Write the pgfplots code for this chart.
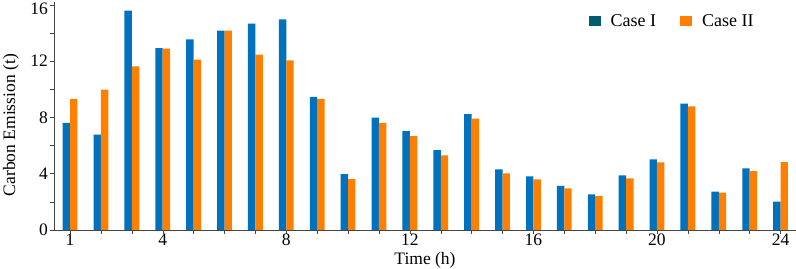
\documentclass[border=0pt]{standalone}
\usepackage{pgfplots}
\pgfplotsset{compat=1.18}
\usepackage{fontspec}
\setmainfont{Liberation Serif}
\definecolor{cblue}{RGB}{0,114,189}
\definecolor{corange}{RGB}{255,127,0}
\definecolor{cteal}{RGB}{0,92,110}
\definecolor{axgray}{RGB}{70,70,70}
\begin{document}
\begin{tikzpicture}
\begin{axis}[
  scale only axis,
  width=742pt, height=228pt,
  xmin=0.48, xmax=24.5,
  ymin=0, ymax=16.2,
  ybar=0pt, bar width=0.24,
  axis lines=left,
  axis line style={axgray, -},
  xtick={1,4,8,12,16,20,24},
  minor xtick={1,...,24},
  ytick={0,4,8,12},
  minor ytick={2,6,10,14},
  extra y ticks={16},
  extra y tick style={yticklabel style={yshift=-4pt}},
  tick align=outside,
  major tick length=4pt, minor tick length=4pt,
  tick style={axgray},
  every tick/.style={axgray},
  tick label style={font=\fontsize{17.5}{19}\selectfont, text=black},
  xticklabel style={inner sep=1pt, yshift=1pt},
  yticklabel style={inner sep=2pt},
  /pgf/number format/assume math mode=true,
  xlabel={Time (h)},
  ylabel={Carbon Emission (t)},
  label style={font=\fontsize{17.5}{19}\selectfont},
  xlabel style={at={(axis description cs:0.5,0)}, anchor=center, yshift=-30pt},
  ylabel style={at={(axis description cs:-0.058,0.46)}, anchor=center},
  legend style={draw=none, fill=none, at={(0.95,0.965)}, anchor=north east,
    legend columns=2, font=\fontsize{18}{20}\selectfont,
    /tikz/every odd column/.append style={column sep=8pt},
    /tikz/every even column/.append style={column sep=22pt}},
]
\coordinate (bl) at (rel axis cs:0,0);
\coordinate (tr) at (rel axis cs:1,1);
\addplot[fill=cblue, draw=none,
  legend image code/.code={\fill[cteal] (0pt,-5pt) rectangle (12pt,5pt);}]
  coordinates {
(1,7.61) (2,6.78) (3,15.58) (4,12.93) (5,13.55) (6,14.16) (7,14.66) (8,14.96)
(9,9.45) (10,3.97) (11,7.99) (12,7.02) (13,5.67) (14,8.23) (15,4.30) (16,3.81)
(17,3.14) (18,2.53) (19,3.88) (20,5.01) (21,8.98) (22,2.72) (23,4.37) (24,2.01)
};
\addplot[fill=corange, draw=none,
  legend image code/.code={\fill[corange] (0pt,-5pt) rectangle (12pt,5pt);}]
  coordinates {
(1,9.31) (2,9.98) (3,11.63) (4,12.88) (5,12.10) (6,14.16) (7,12.46) (8,12.06)
(9,9.31) (10,3.62) (11,7.61) (12,6.67) (13,5.30) (14,7.92) (15,4.02) (16,3.59)
(17,2.96) (18,2.41) (19,3.66) (20,4.80) (21,8.79) (22,2.65) (23,4.18) (24,4.82)
};
\legend{Case I, Case II}
\end{axis}
\pgfresetboundingbox
\path ([xshift=-54pt,yshift=-39pt]bl) rectangle ([yshift=2pt]tr);
\end{tikzpicture}
\end{document}
